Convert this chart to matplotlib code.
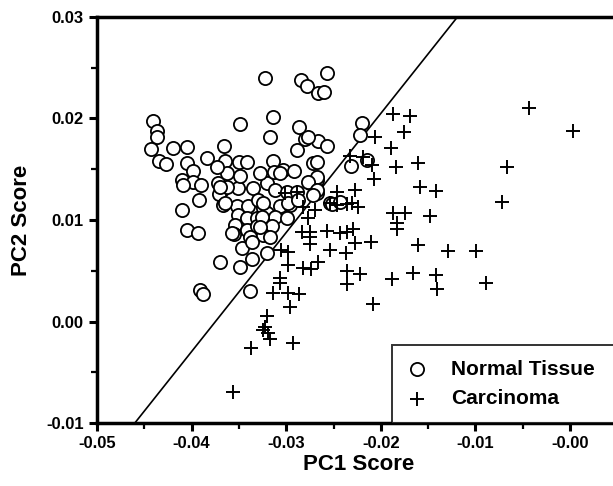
import matplotlib
matplotlib.use("Agg")
from matplotlib import pyplot as plt
from matplotlib.ticker import MultipleLocator

# PC scores (units: 1e-3)
normal_pc1 = [-32.2, -28.4, -27.8, -25.7, -26.6, -26.0,
              -44.1, -43.7, -43.7, -44.3, -43.4, -42.7, -42.0, -40.5, -34.9, -31.4,
              -31.7, -28.6, -28.0, -28.9, -26.6, -25.7, -27.7, -36.6, -38.4, -36.5,
              -35.0, -34.1, -31.4, -30.3, -29.2, -40.5, -39.9, -41.0, -39.9, -39.0,
              -40.9, -39.2, -41.0, -40.5, -39.3, -37.0, -39.1, -38.8, -37.2, -36.8,
              -37.1, -36.7, -35.1, -33.5, -32.0, -31.2, -32.8, -31.3, -35.2, -34.0,
              -33.0, -32.5, -30.7, -29.6, -29.9, -28.9, -35.1, -34.1, -33.1, -32.0,
              -31.2, -35.4, -35.5, -34.1, -33.1, -31.5, -33.8, -32.5, -31.7, -34.7,
              -33.6, -32.0, -33.6, -34.9, -33.8, -36.3, -36.5, -29.8, -28.8, -26.7,
              -25.4, -32.6, -29.9, -32.8, -27.5, -26.7, -27.2, -26.7, -26.7, -27.7,
              -26.7, -27.2, -25.2, -24.3, -22.0, -22.2, -21.5, -23.2, -36.3, -34.9,
              -30.7, -37.3, -37.0, -35.7, -32.5]
normal_pc2 = [24.0, 23.8, 23.2, 24.5, 22.5, 22.6,
              19.8, 18.8, 18.2, 17.0, 15.8, 15.5, 17.1, 17.2, 19.5, 20.1,
              18.2, 19.2, 18.0, 16.9, 17.8, 17.3, 18.2, 17.3, 16.1, 15.8,
              15.7, 15.7, 15.8, 14.9, 14.8, 15.6, 14.8, 13.9, 13.7, 13.4,
              13.4, 12.0, 11.0, 9.0, 8.7, 5.9, 3.1, 2.7, 13.6, 13.0,
              12.6, 11.5, 13.2, 13.2, 13.6, 13.0, 14.6, 14.7, 11.4, 11.4,
              12.0, 11.2, 11.4, 11.5, 12.8, 12.8, 10.5, 10.2, 10.2, 10.7,
              10.3, 9.5, 8.6, 9.0, 9.4, 9.4, 8.3, 8.5, 8.3, 7.2,
              7.8, 6.7, 6.2, 5.4, 3.0, 13.3, 11.7, 11.7, 12.0, 12.7,
              11.7, 10.3, 10.2, 9.3, 13.6, 13.9, 15.6, 15.7, 14.2, 13.7,
              13.0, 12.5, 11.6, 11.8, 19.6, 18.4, 15.9, 15.3, 14.6, 14.3,
              14.6, 15.2, 13.3, 8.7, 11.7]

carcinoma_pc1 = [-4.3, 0.3, -6.7, -7.2, -18.7, -16.9, -17.5, -20.6, -18.9, -18.4,
                 -16.1, -20.9, -20.7, -15.9, -14.2, -23.3, -21.9, -22.7, -24.6, -23.6,
                 -22.4, -24.6, -23.0, -28.2, -27.0, -27.7, -18.7, -17.4, -18.3, -18.3,
                 -14.8, -28.3, -27.5, -27.5, -27.5, -25.7, -24.3, -23.6, -22.9, -22.7,
                 -21.0, -25.4, -23.7, -16.1, -12.9, -9.9, -30.6, -29.8, -29.8, -28.2,
                 -27.4, -26.6, -23.6, -23.6, -22.2, -18.8, -16.6, -14.2, -14.1, -8.9,
                 -30.7, -30.7, -31.4, -29.8, -28.6, -29.6, -20.8, -32.0, -32.2, -32.5,
                 -31.9, -31.7, -29.3, -33.7, -35.6, -30.1, -28.9, -25.4]
carcinoma_pc2 = [21.0, 18.8, 15.2, 11.8, 20.4, 20.2, 18.7, 18.2, 17.1, 15.2,
                 15.6, 15.4, 14.0, 13.3, 12.9, 16.3, 16.2, 13.0, 12.8, 11.6,
                 11.3, 11.5, 11.7, 11.3, 11.0, 10.2, 10.7, 10.7, 9.7, 9.1,
                 10.4, 8.8, 8.8, 8.3, 7.6, 8.9, 8.7, 8.8, 9.1, 7.7,
                 7.8, 7.0, 6.7, 7.5, 6.9, 6.9, 7.0, 6.8, 5.6, 5.3,
                 5.2, 5.9, 5.0, 3.7, 4.7, 4.2, 4.8, 4.6, 3.2, 3.8,
                 4.3, 3.8, 2.8, 2.8, 2.7, 1.4, 1.7, 0.5, -0.5, -0.8,
                 -1.1, -1.7, -2.1, -2.6, -6.9, 12.7, 12.8, 11.7]

# separating line, end points at the axis limits
line_pc1 = [-46.0, -11.9]
line_pc2 = [-10.0, 30.0]

scale = 1e-3
plt.rcParams['font.family'] = ['Liberation Sans', 'DejaVu Sans']
plt.rcParams['font.weight'] = 'bold'

fig = plt.figure(figsize=(6.13, 4.86), dpi=100)
ax = fig.add_axes([97 / 613, 63 / 486, 523 / 613, 406 / 486])

ax.plot([v * scale for v in line_pc1], [v * scale for v in line_pc2],
        color='black', lw=1.2, zorder=1)
ax.scatter([v * scale for v in normal_pc1], [v * scale for v in normal_pc2],
           s=90, facecolors='white', edgecolors='black', linewidths=1.3,
           marker='o', label='Normal Tissue', zorder=2)
ax.scatter([v * scale for v in carcinoma_pc1], [v * scale for v in carcinoma_pc2],
           s=110, color='black', linewidths=1.4, marker='+',
           label='Carcinoma', zorder=3)

ax.set_xlim(-0.05, -0.05 + 523 / 9460)
ax.set_ylim(-0.01, 0.03)
ax.xaxis.set_major_locator(MultipleLocator(0.01))
ax.xaxis.set_minor_locator(MultipleLocator(0.005))
ax.yaxis.set_major_locator(MultipleLocator(0.01))
ax.yaxis.set_minor_locator(MultipleLocator(0.005))
ax.xaxis.set_major_formatter(plt.FuncFormatter(lambda v, p: f"{v:.2f}"))
ax.yaxis.set_major_formatter(plt.FuncFormatter(lambda v, p: f"{v:.2f}"))
ax.tick_params(which='major', direction='out', length=6, width=2.2, labelsize=12)
ax.tick_params(which='minor', direction='out', length=4, width=1.6)
for sp in ax.spines.values():
    sp.set_linewidth(2.5)

ax.set_xlabel('PC1 Score', fontsize=16, fontweight='bold', labelpad=2)
ax.set_ylabel('PC2 Score', fontsize=16, fontweight='bold', labelpad=10)

# legend box runs off the right edge like in the source figure
leg_x0 = (392 - 97) / 523
leg = ax.legend(loc='lower left', bbox_to_anchor=(leg_x0, 0.0, 1.1 - leg_x0, 0.19),
                mode='expand', borderaxespad=0, fontsize=15, frameon=True,
                fancybox=False, edgecolor='black', handletextpad=1.1,
                borderpad=0.72, labelspacing=0.5, handlelength=1.0)
leg.get_frame().set_linewidth(1.4)

fig.savefig('out.png', dpi=100)
